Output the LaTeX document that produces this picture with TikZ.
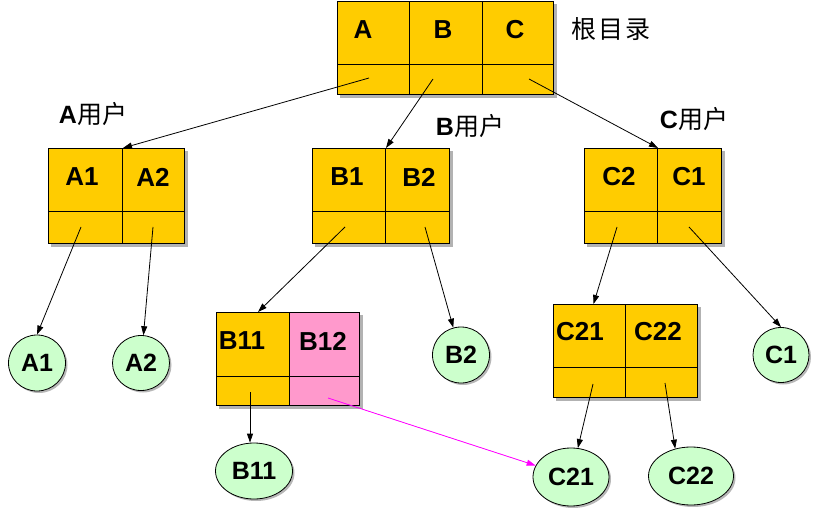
\documentclass[tikz,border=0pt]{standalone}
\usepackage{fontspec}
\setmainfont{Liberation Sans}
\newfontfamily\cjk{Noto Sans CJK SC}
\usetikzlibrary{shapes.geometric,arrows.meta,shadows,backgrounds,calc}
\definecolor{boxy}{HTML}{FFCC00}
\definecolor{boxp}{HTML}{FF99CC}
\definecolor{leafg}{HTML}{CCFFCC}
\definecolor{mag}{HTML}{FF00FF}
\tikzset{
  cell/.style={draw=black, line width=1pt, fill=boxy, inner sep=0pt, anchor=north west},
  pinkcell/.style={cell, fill=boxp},
  lbl/.style={font=\fontsize{26}{30}\selectfont\bfseries, inner sep=0pt},
  cjklbl/.style={font=\fontsize{25}{30}\selectfont, inner sep=0pt},
  userlbl/.style={inner sep=0pt, font=\fontsize{25}{30}\selectfont},
  leaf/.style={ellipse, draw=black, line width=0.8pt, fill=leafg, inner sep=0pt,
    font=\fontsize{25}{30}\selectfont\bfseries,
    drop shadow={shadow xshift=2pt, shadow yshift=-2pt, fill=black!40, opacity=0.7}},
  arr/.style={-{Triangle[length=9pt,width=6pt]}, line width=0.8pt, draw=black},
  pinkarr/.style={arr, draw=mag, fill=mag},
  boxshadow/.style={fill=black!30}
}
\newcommand{\dcell}[7][cell]{\node[#1, minimum width=#5pt, minimum height=#6pt] (#2) at (#3,#4) {#7};}
\begin{document}
\begin{tikzpicture}[x=1pt,y=-1pt]
\useasboundingbox (0,0) rectangle (826,510);

% root directory
\dcell{rA}{337}{1}{72}{63}{}
\dcell{rB}{409}{1}{73}{63}{}
\dcell{rC}{482}{1}{71}{63}{}
\dcell{rAl}{337}{64}{72}{30}{}
\dcell{rBl}{409}{64}{73}{30}{}
\dcell{rCl}{482}{64}{71}{30}{}
\node[lbl] (tA) at (363,30) {A};
\node[lbl] (tB) at (443,30) {B};
\node[lbl] (tC) at (515,30) {C};
\node[cjklbl] (troot) at (611,29) {\cjk 根\hspace{2pt}目\hspace{2pt}录};

% A user
\dcell{a1}{48}{148}{74}{63}{}
\dcell{a2}{122}{148}{62}{63}{}
\dcell{a1l}{48}{211}{74}{32}{}
\dcell{a2l}{122}{211}{62}{32}{}
\node[lbl] (ta1) at (82,177) {A1};
\node[lbl] (ta2) at (153,177) {A2};
\node[userlbl] (tAuser) at (93,114) {\bfseries A\cjk\mdseries 用户};

% B user
\dcell{b1}{312}{148}{73}{63}{}
\dcell{b2}{385}{148}{64}{63}{}
\dcell{b1l}{312}{211}{73}{32}{}
\dcell{b2l}{385}{211}{64}{32}{}
\node[lbl] (tb1) at (347,177) {B1};
\node[lbl] (tb2) at (419,177) {B2};
\node[userlbl] (tBuser) at (470,126) {\bfseries B\cjk\mdseries 用户};

% C user
\dcell{c2}{584}{148}{73}{63}{}
\dcell{c1}{657}{148}{64}{63}{}
\dcell{c2l}{584}{211}{73}{32}{}
\dcell{c1l}{657}{211}{64}{32}{}
\node[lbl] (tc2) at (619,177) {C2};
\node[lbl] (tc1) at (689,177) {C1};
\node[userlbl] (tCuser) at (694,119) {\bfseries C\cjk\mdseries 用户};

% B11 / B12
\dcell{b11}{216}{312}{73}{64}{}
\dcell[pinkcell]{b12}{289}{312}{70}{64}{}
\dcell{b11l}{216}{376}{73}{29}{}
\dcell[pinkcell]{b12l}{289}{376}{70}{29}{}
\node[lbl] (tb11) at (242,341) {B11};
\node[lbl] (tb12) at (323,341) {B12};

% C21 / C22
\dcell{c21}{553}{304}{72}{63}{}
\dcell{c22}{625}{304}{72}{63}{}
\dcell{c21l}{553}{367}{72}{30}{}
\dcell{c22l}{625}{367}{72}{30}{}
\node[lbl] (tc21) at (580,332) {C21};
\node[lbl] (tc22) at (658,332) {C22};

% box shadows
\begin{scope}[on background layer]
  \fill[boxshadow] ($(rA.north west)+(3,3)$) rectangle ($(rCl.south east)+(3,3)$);
  \fill[boxshadow] ($(a1.north west)+(3,3)$) rectangle ($(a2l.south east)+(3,3)$);
  \fill[boxshadow] ($(b1.north west)+(3,3)$) rectangle ($(b2l.south east)+(3,3)$);
  \fill[boxshadow] ($(c2.north west)+(3,3)$) rectangle ($(c1l.south east)+(3,3)$);
  \fill[boxshadow] ($(b11.north west)+(3,3)$) rectangle ($(b12l.south east)+(3,3)$);
  \fill[boxshadow] ($(c21.north west)+(3,3)$) rectangle ($(c22l.south east)+(3,3)$);
\end{scope}

% leaves
\node[leaf, minimum width=57pt, minimum height=56pt] (lA1) at (37,363) {A1};
\node[leaf, minimum width=57pt, minimum height=55pt] (lA2) at (141,363) {A2};
\node[leaf, minimum width=57pt, minimum height=56pt] (lB2) at (461,355) {B2};
\node[leaf, minimum width=56pt, minimum height=55pt] (lC1) at (781,355) {C1};
\node[leaf, minimum width=77pt, minimum height=56pt] (lB11) at (254,471) {B11};
\node[leaf, minimum width=76pt, minimum height=58pt] (lC21) at (571,477) {C21};
\node[leaf, minimum width=85pt, minimum height=58pt] (lC22) at (691,476) {C22};

% connector start points
\coordinate (sRA) at (369,78);
\coordinate (sRB) at (433,79);
\coordinate (sRC) at (529,79);
\coordinate (sA1) at (81,227);
\coordinate (sA2) at (153,227);
\coordinate (sB1) at (345,227);
\coordinate (sB2) at (425,227);
\coordinate (sC2) at (617,227);
\coordinate (sC1) at (689,227);
\coordinate (sB11) at (250,392);
\coordinate (sB12) at (328,398);
\coordinate (sC21) at (593,384);
\coordinate (sC22) at (665,383);

% connectors
\draw[arr] (sRA) -- (a1.north east);
\draw[arr] (sRB) -- (b1.north east);
\draw[arr] (sRC) -- (c2.north east);
\draw[arr] (sA1) -- (lA1.north);
\draw[arr] (sA2) -- (lA2);
\draw[arr] (sB1) -- ($(b11.north)+(5,0)$);
\draw[arr] (sB2) -- (lB2);
\draw[arr] (sC2) -- ($(c21.north)+(4,0)$);
\draw[arr] (sC1) -- (lC1.north);
\draw[arr] (sB11) -- (lB11.north -| sB11);
\draw[pinkarr] (sB12) -- (lC21);
\draw[arr] (sC21) -- (lC21);
\draw[arr] (sC22) -- (lC22.120);
\end{tikzpicture}
\end{document}
